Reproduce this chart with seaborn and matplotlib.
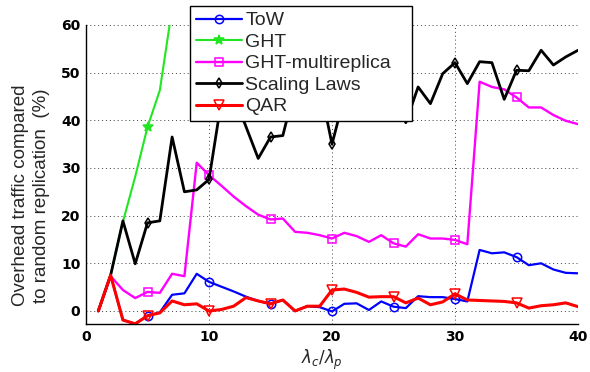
import numpy as np
import pandas as pd
import seaborn as sns
import matplotlib.pyplot as plt
from matplotlib.lines import Line2D

ratio = [1, 2, 3, 4, 5, 6, 7, 8, 9, 10, 11, 12, 13, 14, 15, 16, 17, 18, 19, 20,
         21, 22, 23, 24, 25, 26, 27, 28, 29, 30, 31, 32, 33, 34, 35, 36, 37, 38, 39, 40]

tow = [0, 7.5, -1.9, -2.7, -1.0, -0.3, 3.4, 3.7, 7.8, 6.1,
       5.1, 4.1, 3.0, 2.1, 1.5, 2.3, 0.0, 1.0, 0.8, -0.1,
       1.5, 1.6, 0.2, 2.0, 0.9, 0.6, 3.1, 2.9, 2.9, 2.5,
       2.0, 12.8, 12.1, 12.3, 11.3, 9.6, 10.0, 8.7, 8.0, 7.9]
ght = [0, 7.5, 18.7, 28.2, 38.6, 46.3, 63.5]
ght_multi = [0, 7.3, 4.4, 2.7, 4.0, 3.8, 7.8, 7.3, 31.1, 28.5,
             26.3, 24.0, 22.0, 20.2, 19.2, 19.4, 16.6, 16.4, 15.9, 15.2,
             16.4, 15.7, 14.5, 15.9, 14.2, 13.5, 16.1, 15.2, 15.2, 14.9,
             14.0, 48.1, 47.0, 46.5, 44.8, 42.7, 42.7, 41.1, 39.9, 39.2]
scaling = [0, 7.5, 18.9, 9.9, 18.5, 18.9, 36.5, 25.0, 25.4, 27.6,
           44.0, 45.4, 38.7, 32.0, 36.5, 36.8, 47.0, 44.0, 47.5, 35.0,
           45.0, 48.0, 44.0, 49.0, 46.0, 39.5, 47.0, 43.5, 49.8, 52.1,
           47.7, 52.3, 52.1, 44.4, 50.5, 50.4, 54.7, 51.6, 53.3, 54.7]
qar = [0, 7.5, -1.9, -2.7, -1.0, -0.4, 2.1, 1.3, 1.5, 0.0,
       0.3, 1.0, 2.8, 2.1, 1.5, 2.3, 0.0, 1.0, 1.0, 4.4,
       4.6, 3.9, 2.9, 3.0, 3.0, 1.7, 2.7, 1.3, 1.9, 3.6,
       2.3, 2.2, 2.1, 2.0, 1.7, 0.6, 1.1, 1.3, 1.7, 0.9]

names = ['ToW', 'GHT', 'GHT-multireplica', 'Scaling Laws', 'QAR']
values = [tow, ght, ght_multi, scaling, qar]

# style per series: colour, marker, line width, marker size, filled
styles = [('#0000ff', 'o', 1.6, 6, False),
          ('#22e622', '*', 1.5, 7, True),
          ('#ff00ff', 's', 1.7, 6, False),
          ('#000000', 'd', 2.0, 5, False),
          ('#ff0000', 'v', 2.2, 7, False)]

sns.set_style('white')
plt.rcParams['font.family'] = ['Liberation Sans', 'DejaVu Sans']

fig = plt.figure(figsize=(5.9, 3.72), dpi=100)
ax = fig.add_axes([0.1458, 0.1282, 0.8339, 0.8046])

handles = []
for name, vals, (col, mk, lw, ms, filled) in zip(names, values, styles):
    df = pd.DataFrame({'x': ratio[:len(vals)], 'y': vals})
    fc = col if filled else 'none'
    sns.lineplot(data=df, x='x', y='y', ax=ax, color=col, lw=lw, marker=mk,
                 markevery=slice(4, 35, 5), ms=ms, mfc=fc, mec=col, mew=1.1,
                 legend=False)
    handles.append(Line2D([], [], color=col, lw=lw, marker=mk, ms=ms,
                          mfc=fc, mec=col, mew=1.1, label=name))

ax.set_xlim(0, 40)
ax.set_ylim(-2.8, 60)
ax.set_xticks([0, 10, 20, 30, 40])
ax.set_yticks([0, 10, 20, 30, 40, 50, 60])
for s in ['top', 'right']:
    ax.spines[s].set_visible(False)
for s in ['left', 'bottom']:
    ax.spines[s].set_color('black')
    ax.spines[s].set_linewidth(1.0)
ax.grid(True, ls=(0, (1, 3)), color='0.25', lw=0.7)
ax.set_axisbelow(True)
ax.tick_params(direction='in', length=4, width=1, colors='black', pad=4)
for lab in ax.get_xticklabels() + ax.get_yticklabels():
    lab.set_fontfamily('DejaVu Sans')
    lab.set_fontweight('bold')
    lab.set_fontsize(10)

ax.set_xlabel(r'$\lambda_c/\lambda_p$', fontsize=12)
ax.xaxis.set_label_coords(0.48, -0.078)
ax.set_ylabel('Overhead traffic compared\nto random replication  (%)', fontsize=13.5,
              linespacing=1.3)
ax.yaxis.set_label_coords(-0.073, 0.43)

lx, ly = 190 / 590, 1 - 6 / 372
leg = fig.legend(handles=handles, loc='upper left', bbox_to_anchor=(lx, ly - 0.3, 222 / 590, 0.3),
                 bbox_transform=fig.transFigure, mode='expand', borderaxespad=0, fontsize=14,
                 frameon=True, fancybox=False, framealpha=1, edgecolor='black',
                 handlelength=2.4, handletextpad=0.15, labelspacing=0.2,
                 borderpad=0.3, numpoints=1)
leg.get_frame().set_linewidth(1.0)

fig.savefig('out.png', dpi=100)
